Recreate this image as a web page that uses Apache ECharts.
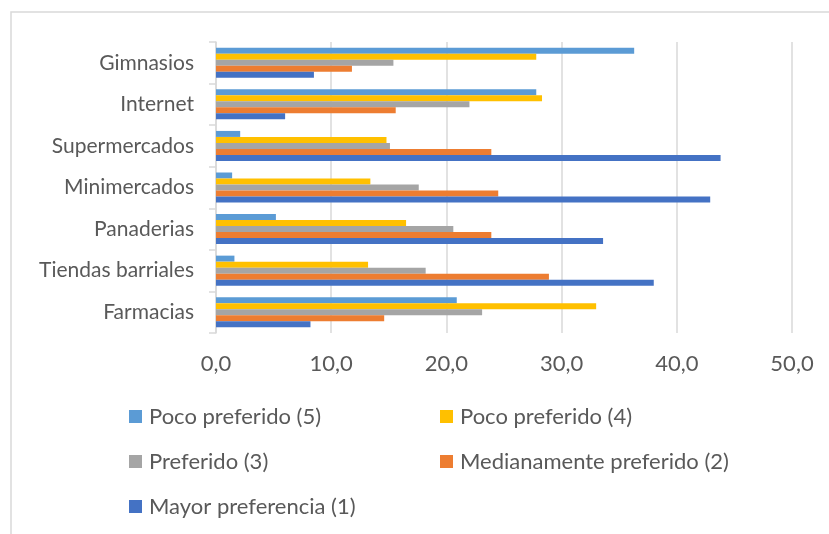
<!DOCTYPE html>
<html>
<head>
<meta charset="utf-8">
<script src="https://cdn.jsdelivr.net/npm/echarts@6/dist/echarts.min.js"></script>
<style>
  html, body { margin: 0; padding: 0; background: #ffffff; }
  #chart { width: 829px; height: 534px; }
</style>
</head>
<body>
<div id="chart"></div>
<script>
// Establishments, listed bottom to top on the category axis
const categories = ['Farmacias', 'Tiendas barriales', 'Panaderias', 'Minimercados', 'Supermercados', 'Internet', 'Gimnasios'];

// Percentage of respondents for each preference level
const pocoPreferido5 = [20.9, 1.6, 5.2, 1.4, 2.1, 27.8, 36.3];
const pocoPreferido4 = [33.0, 13.2, 16.5, 13.4, 14.8, 28.3, 27.8];
const preferido3 = [23.1, 18.2, 20.6, 17.6, 15.1, 22.0, 15.4];
const medianamentePreferido2 = [14.6, 28.9, 23.9, 24.5, 23.9, 15.6, 11.8];
const mayorPreferencia1 = [8.2, 38.0, 33.6, 42.9, 43.8, 6.0, 8.5];

const xTicks = { min: 0, max: 50, interval: 10 };

const seriesNames = ['Poco preferido (5)', 'Poco preferido (4)', 'Preferido (3)', 'Medianamente preferido (2)', 'Mayor preferencia (1)'];
const seriesValues = [pocoPreferido5, pocoPreferido4, preferido3, medianamentePreferido2, mayorPreferencia1];
const seriesColors = ['#5B9BD5', '#FFC000', '#A5A5A5', '#ED7D31', '#4472C4'];

const FONT = 'Lato';
const TEXT = '#595959';
const GRIDLINE = '#d9d9d9';

const chart = echarts.init(document.getElementById('chart'), null, { renderer: 'canvas' });

const legendCommon = {
  orient: 'vertical',
  icon: 'rect',
  padding: 0,
  itemWidth: 13,
  itemHeight: 13,
  itemGap: 20,
  textStyle: { color: TEXT, fontFamily: FONT, fontSize: 22, lineHeight: 25, padding: [0, 0, 0, 2] },
  selectedMode: false
};

chart.setOption({
  animation: false,
  backgroundColor: '#ffffff',
  graphic: [{
    type: 'rect',
    shape: { x: 11, y: 12, width: 840, height: 560 },
    style: { fill: 'none', stroke: GRIDLINE, lineWidth: 1.5 },
    silent: true
  }],
  grid: { left: 216, right: 37, top: 42, bottom: 201, containLabel: false },
  legend: [
    Object.assign({ left: 129, top: 404, data: [seriesNames[0], seriesNames[2], seriesNames[4]] }, legendCommon),
    Object.assign({ left: 440, top: 404, data: [seriesNames[1], seriesNames[3]] }, legendCommon)
  ],
  xAxis: {
    type: 'value',
    min: xTicks.min,
    max: xTicks.max,
    interval: xTicks.interval,
    axisLine: { show: false },
    axisTick: { show: false },
    splitLine: { lineStyle: { color: GRIDLINE, width: 1.5 } },
    axisLabel: {
      color: TEXT, fontFamily: FONT, fontSize: 22, margin: 20,
      formatter: v => v.toFixed(1).replace('.', ',')
    }
  },
  yAxis: {
    type: 'category',
    data: categories,
    axisLine: { show: true, lineStyle: { color: GRIDLINE, width: 1.5 } },
    axisTick: { show: true, length: 7, lineStyle: { color: GRIDLINE, width: 1.5 } },
    axisLabel: { color: TEXT, fontFamily: FONT, fontSize: 21, margin: 22 },
    splitLine: { show: false }
  },
  series: seriesNames.map((name, i) => ({
    name: name,
    type: 'bar',
    data: seriesValues[i],
    barWidth: 6,
    barGap: '0%',
    itemStyle: { color: seriesColors[i] }
  }))
});
</script>
</body>
</html>
